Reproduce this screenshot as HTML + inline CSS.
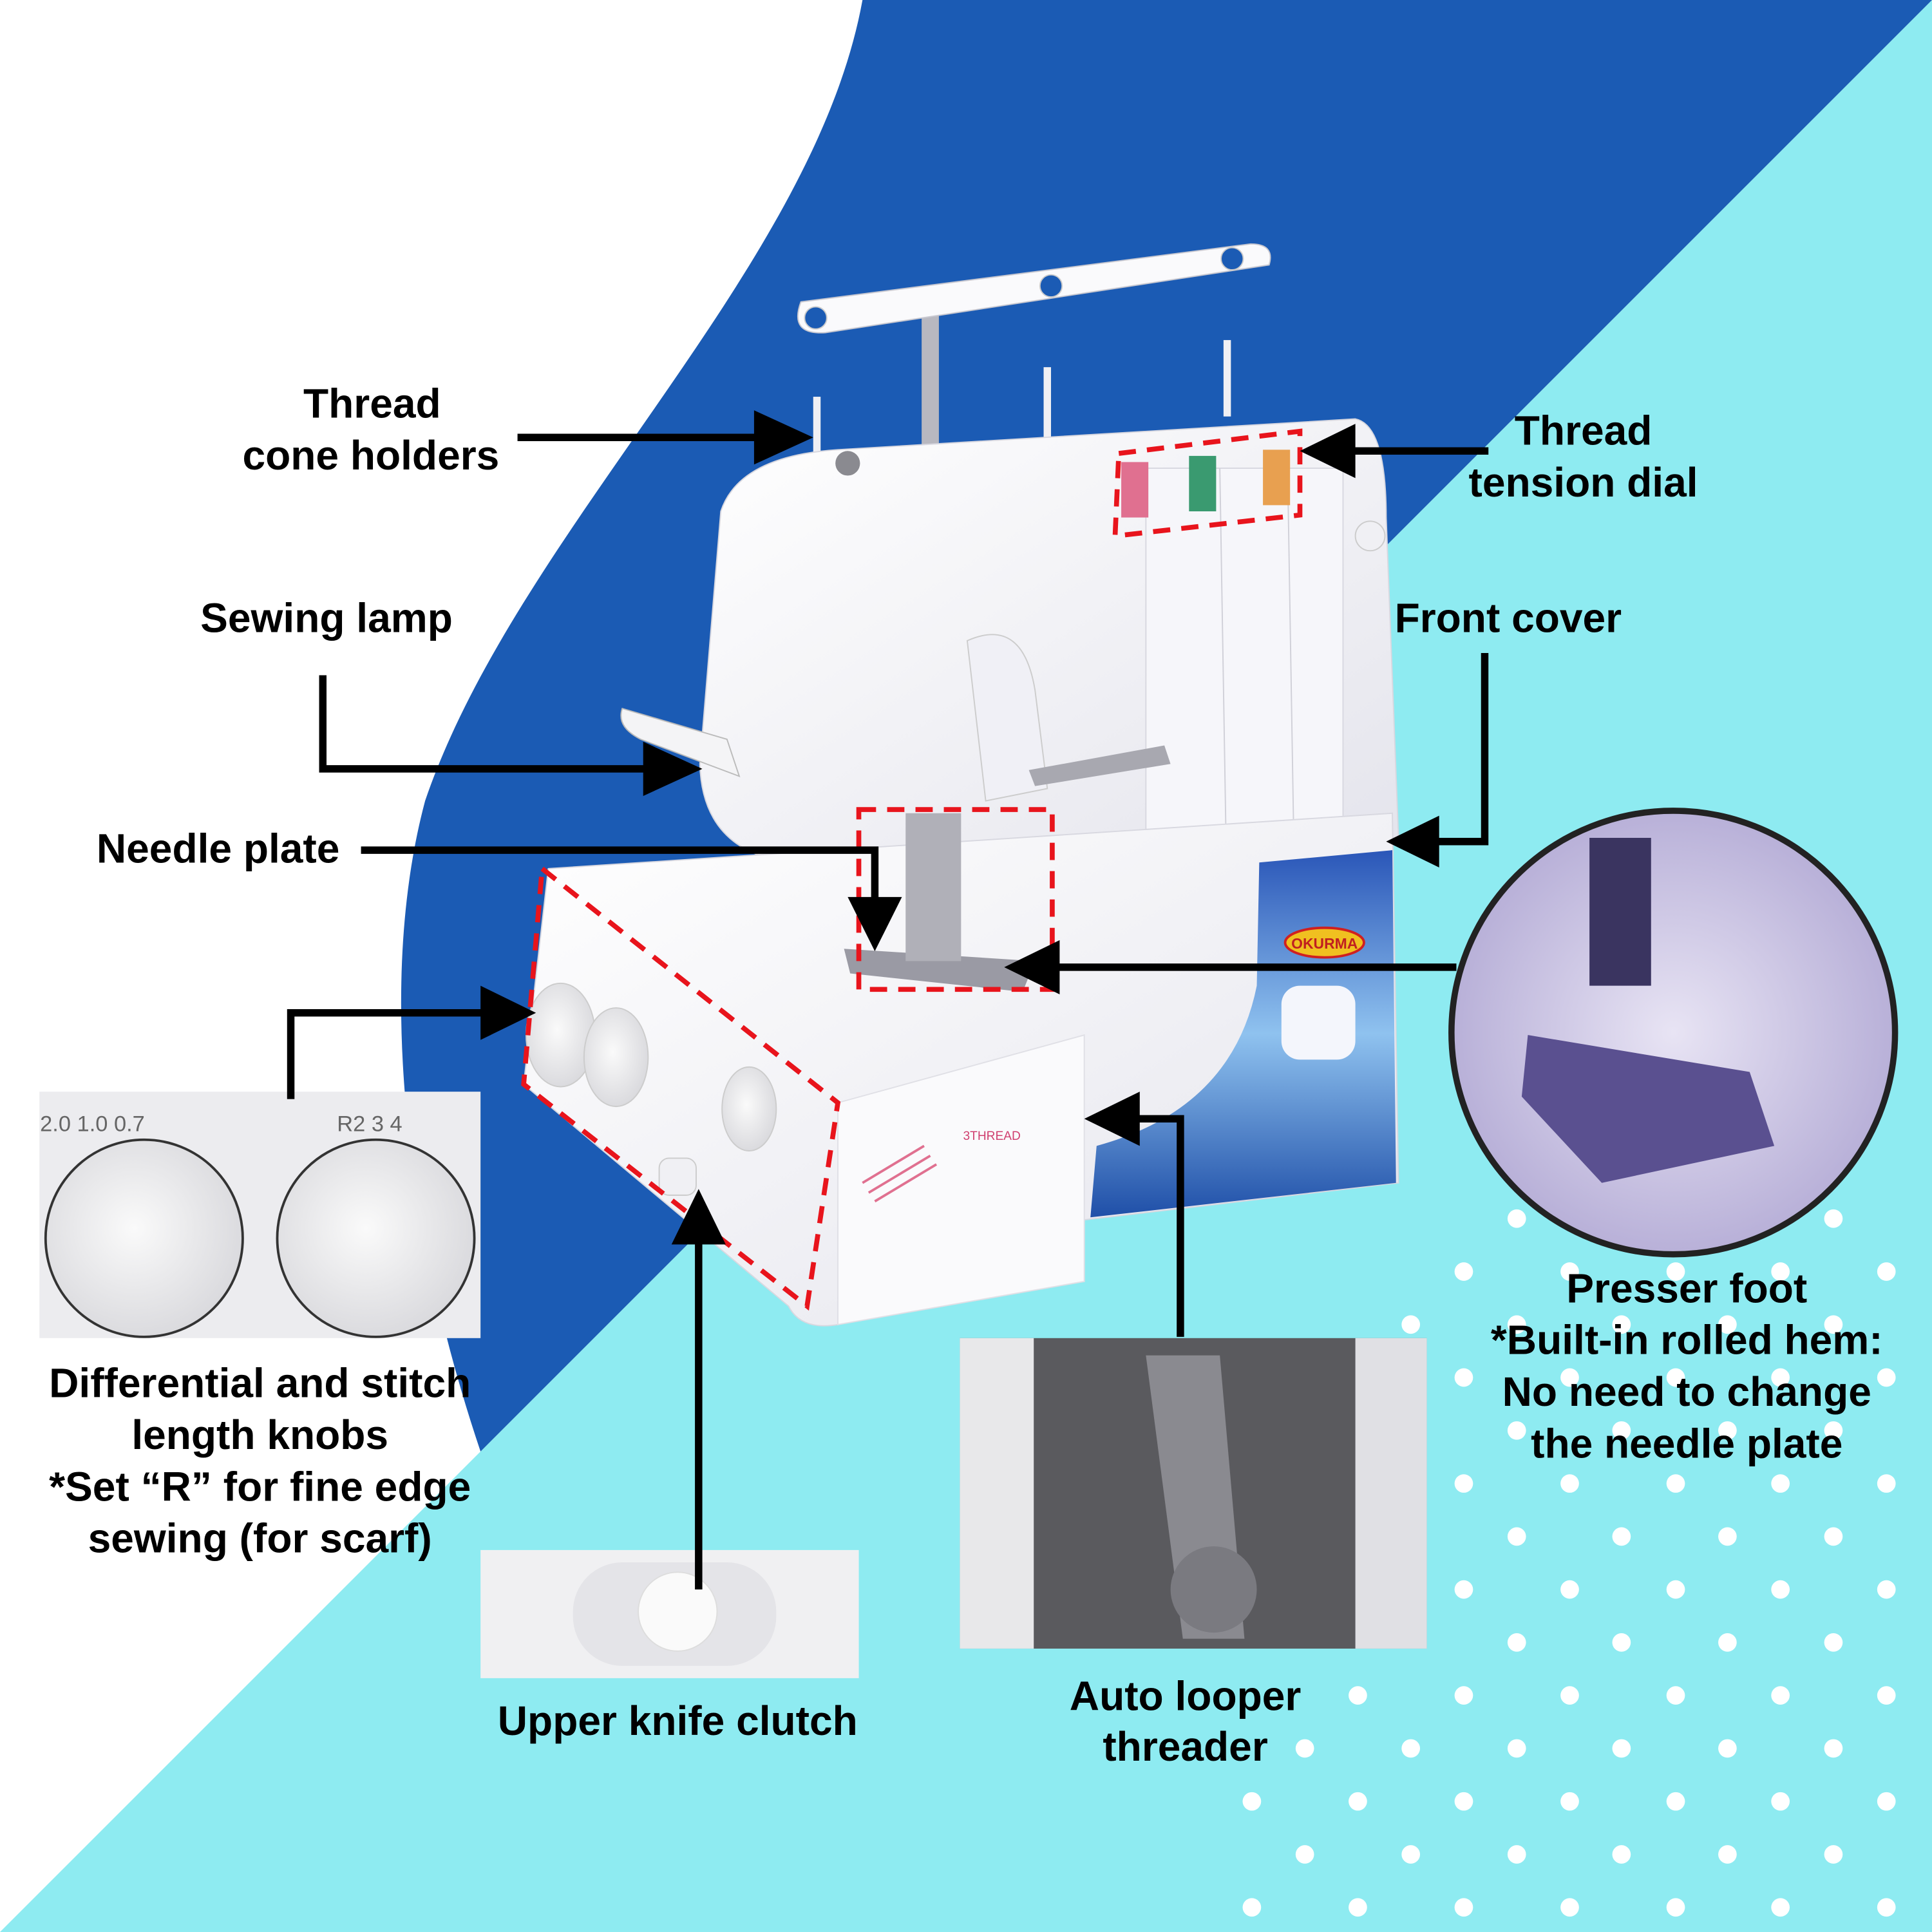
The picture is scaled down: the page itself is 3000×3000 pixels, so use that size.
<!DOCTYPE html>
<html><head><meta charset="utf-8"><style>
html,body{margin:0;padding:0;background:#fff}
svg{display:block}
text{font-family:"Liberation Sans",sans-serif;font-weight:bold;font-size:33.5px;fill:#000;text-anchor:middle}
</style></head><body>
<svg width="3000" height="3000" viewBox="0 0 1568 1568" xmlns="http://www.w3.org/2000/svg">
<defs>
<radialGradient id="knob" cx="0.45" cy="0.45" r="0.6"><stop offset="0" stop-color="#fafafa"/><stop offset="1" stop-color="#d8d8dc"/></radialGradient>
<linearGradient id="body" x1="0" y1="0" x2="1" y2="1"><stop offset="0" stop-color="#ffffff"/><stop offset="1" stop-color="#e4e4ec"/></linearGradient>
<linearGradient id="panel" x1="0" y1="0" x2="0" y2="1"><stop offset="0" stop-color="#2a56b8"/><stop offset="0.5" stop-color="#8fc2ef"/><stop offset="1" stop-color="#1f4fa8"/></linearGradient>
<radialGradient id="pf" cx="0.5" cy="0.5" r="0.5"><stop offset="0" stop-color="#e8e4f4"/><stop offset="1" stop-color="#b8b0d8"/></radialGradient>
</defs>
<rect width="1568" height="1568" fill="#fff"/>
<path d="M1568,0 L1568,1568 L0,1568 Z" fill="#8eebf1"/>
<path d="M700,0 L1568,0 L390,1178 C330,1000 305,800 345,650 C420,430 660,220 700,0 Z" fill="#1b5bb4"/>
<g fill="#fff">
<circle cx="1231" cy="989" r="7.5"/><circle cx="1316" cy="989" r="7.5"/><circle cx="1402" cy="989" r="7.5"/><circle cx="1488" cy="989" r="7.5"/>
<circle cx="1188" cy="1032" r="7.5"/><circle cx="1274" cy="1032" r="7.5"/><circle cx="1360" cy="1032" r="7.5"/><circle cx="1445" cy="1032" r="7.5"/><circle cx="1531" cy="1032" r="7.5"/>
<circle cx="1145" cy="1075" r="7.5"/><circle cx="1231" cy="1075" r="7.5"/><circle cx="1316" cy="1075" r="7.5"/><circle cx="1402" cy="1075" r="7.5"/><circle cx="1488" cy="1075" r="7.5"/>
<circle cx="1188" cy="1118" r="7.5"/><circle cx="1274" cy="1118" r="7.5"/><circle cx="1360" cy="1118" r="7.5"/><circle cx="1445" cy="1118" r="7.5"/><circle cx="1531" cy="1118" r="7.5"/>
<circle cx="1145" cy="1161" r="7.5"/><circle cx="1231" cy="1161" r="7.5"/><circle cx="1316" cy="1161" r="7.5"/><circle cx="1402" cy="1161" r="7.5"/><circle cx="1488" cy="1161" r="7.5"/>
<circle cx="1188" cy="1204" r="7.5"/><circle cx="1274" cy="1204" r="7.5"/><circle cx="1360" cy="1204" r="7.5"/><circle cx="1445" cy="1204" r="7.5"/><circle cx="1531" cy="1204" r="7.5"/>
<circle cx="1231" cy="1247" r="7.5"/><circle cx="1316" cy="1247" r="7.5"/><circle cx="1402" cy="1247" r="7.5"/><circle cx="1488" cy="1247" r="7.5"/>
<circle cx="1188" cy="1290" r="7.5"/><circle cx="1274" cy="1290" r="7.5"/><circle cx="1360" cy="1290" r="7.5"/><circle cx="1445" cy="1290" r="7.5"/><circle cx="1531" cy="1290" r="7.5"/>
<circle cx="1231" cy="1333" r="7.5"/><circle cx="1316" cy="1333" r="7.5"/><circle cx="1402" cy="1333" r="7.5"/><circle cx="1488" cy="1333" r="7.5"/>
<circle cx="1102" cy="1376" r="7.5"/><circle cx="1188" cy="1376" r="7.5"/><circle cx="1274" cy="1376" r="7.5"/><circle cx="1360" cy="1376" r="7.5"/><circle cx="1445" cy="1376" r="7.5"/><circle cx="1531" cy="1376" r="7.5"/>
<circle cx="1059" cy="1419" r="7.5"/><circle cx="1145" cy="1419" r="7.5"/><circle cx="1231" cy="1419" r="7.5"/><circle cx="1316" cy="1419" r="7.5"/><circle cx="1402" cy="1419" r="7.5"/><circle cx="1488" cy="1419" r="7.5"/>
<circle cx="1016" cy="1462" r="7.5"/><circle cx="1102" cy="1462" r="7.5"/><circle cx="1188" cy="1462" r="7.5"/><circle cx="1274" cy="1462" r="7.5"/><circle cx="1360" cy="1462" r="7.5"/><circle cx="1445" cy="1462" r="7.5"/><circle cx="1531" cy="1462" r="7.5"/>
<circle cx="1059" cy="1505" r="7.5"/><circle cx="1145" cy="1505" r="7.5"/><circle cx="1231" cy="1505" r="7.5"/><circle cx="1316" cy="1505" r="7.5"/><circle cx="1402" cy="1505" r="7.5"/><circle cx="1488" cy="1505" r="7.5"/>
<circle cx="1016" cy="1548" r="7.5"/><circle cx="1102" cy="1548" r="7.5"/><circle cx="1188" cy="1548" r="7.5"/><circle cx="1274" cy="1548" r="7.5"/><circle cx="1360" cy="1548" r="7.5"/><circle cx="1445" cy="1548" r="7.5"/><circle cx="1531" cy="1548" r="7.5"/>
</g>
<!-- machine -->
<g>
<rect x="748" y="245" width="14" height="130" fill="#b8b8c0"/>
<path d="M650,245 L1015,198 Q1035,198 1030,215 L670,270 Q640,272 650,245 Z" fill="#fafafc" stroke="#c8c8d0"/>
<circle cx="662" cy="258" r="9" fill="#1b5bb4" stroke="#ccc"/>
<circle cx="853" cy="232" r="9" fill="#1b5bb4" stroke="#ccc"/>
<circle cx="1000" cy="210" r="9" fill="#1b5bb4" stroke="#ccc"/>
<rect x="660" y="322" width="6" height="50" fill="#f0f0f4"/>
<rect x="847" y="298" width="6" height="60" fill="#f0f0f4"/>
<rect x="993" y="276" width="6" height="62" fill="#f0f0f4"/>
<path d="M585,415 Q600,370 680,365 L1100,340 Q1125,345 1125,420 L1135,680 L640,700 Q570,690 568,620 Z" fill="url(#body)" stroke="#d8d8e0"/>
<rect x="930" y="380" width="160" height="300" fill="#f6f6fa" stroke="#d8d8e0"/>
<line x1="990" y1="380" x2="995" y2="680" stroke="#d0d0d8"/>
<line x1="1045" y1="380" x2="1050" y2="680" stroke="#d0d0d8"/>
<rect x="910" y="375" width="22" height="45" fill="#e07090"/>
<rect x="965" y="370" width="22" height="45" fill="#3a9a70"/>
<rect x="1025" y="365" width="22" height="45" fill="#e8a050"/>
<circle cx="1112" cy="435" r="12" fill="#f0f0f4" stroke="#ccc"/>
<path d="M785,520 Q830,500 840,560 L850,640 L800,650 Z" fill="#f0f0f6" stroke="#ccc"/>
<path d="M835,625 L945,605 L950,620 L840,638 Z" fill="#a8a8b0"/>
<path d="M505,575 L590,600 L600,630 L520,600 Q500,590 505,575 Z" fill="#f4f4f6" stroke="#bbb"/>
<circle cx="688" cy="376" r="10" fill="#8a8a90"/>
<path d="M445,705 L1130,660 L1135,960 L880,990 L880,1040 L680,1075 Q650,1080 640,1060 L425,880 Z" fill="url(#body)" stroke="#d8d8e0"/>
<path d="M680,895 L880,840 L880,1040 L680,1075 Z" fill="#fafafc" stroke="#e0e0e6"/>
<path d="M1022,700 L1130,690 L1133,960 L885,988 L890,930 Q1000,900 1020,800 Z" fill="url(#panel)"/>
<ellipse cx="1075" cy="765" rx="32" ry="12" fill="#f0c020" stroke="#d02020" stroke-width="2"/>
<text x="1075" y="770" style="font-size:12px;fill:#c02020">OKURMA</text>
<rect x="1040" y="800" width="60" height="60" rx="15" fill="#f4f6fc"/>
<ellipse cx="455" cy="840" rx="28" ry="42" fill="url(#knob)" stroke="#ccc"/>
<ellipse cx="500" cy="858" rx="26" ry="40" fill="url(#knob)" stroke="#ccc"/>
<ellipse cx="608" cy="900" rx="22" ry="34" fill="url(#knob)" stroke="#ccc"/>
<rect x="535" y="940" width="30" height="30" rx="8" fill="#f0f0f4" stroke="#ccc"/>
<path d="M700,960 L750,930 M705,968 L755,938 M710,975 L760,945" stroke="#e07090" stroke-width="2"/>
<text x="805" y="925" style="font-size:10px;fill:#d04070;font-weight:normal">3THREAD</text>
<path d="M685,770 L840,780 L830,805 L690,790 Z" fill="#9a9aa4"/>
<rect x="735" y="660" width="45" height="120" fill="#b0b0b8"/>
</g>
<g fill="none" stroke="#e8141c" stroke-width="4" stroke-dasharray="14,9">
<path d="M908,368 L1055,350 L1055,418 L905,435 Z"/>
<rect x="697" y="657" width="157" height="146"/>
<path d="M440,705 L680,895 L655,1060 L425,880 Z"/>
</g>
<rect x="32" y="886" width="358" height="200" fill="#ececef"/>
<circle cx="117" cy="1005" r="80" fill="url(#knob)" stroke="#333" stroke-width="2"/>
<circle cx="305" cy="1005" r="80" fill="url(#knob)" stroke="#333" stroke-width="2"/>
<text x="75" y="918" style="font-size:18px;fill:#666;font-weight:normal">2.0  1.0  0.7</text>
<text x="300" y="918" style="font-size:18px;fill:#666;font-weight:normal">R2 3 4</text>
<rect x="390" y="1258" width="307" height="104" fill="#f0f0f2"/>
<rect x="465" y="1268" width="165" height="84" rx="40" fill="#e4e4e8"/>
<circle cx="550" cy="1308" r="32" fill="#fafafa" stroke="#ddd"/>
<rect x="779" y="1086" width="379" height="252" fill="#5a5a5e"/>
<rect x="779" y="1086" width="60" height="252" fill="#e8e8ea"/>
<rect x="1100" y="1086" width="58" height="252" fill="#e0e0e4"/>
<path d="M930,1100 L960,1330 L1010,1330 L990,1100 Z" fill="#8a8a90"/>
<circle cx="985" cy="1290" r="35" fill="#7a7a80"/>
<circle cx="1358" cy="838" r="180" fill="url(#pf)" stroke="#222" stroke-width="5"/>
<path d="M1240,840 L1420,870 L1440,930 L1300,960 L1235,890 Z" fill="#5a5090"/>
<rect x="1290" y="680" width="50" height="120" fill="#3a3460"/>
<g stroke="#000" stroke-width="6" fill="none">
<polyline points="420,355 620,355"/>
<polyline points="1208,366 1095,366"/>
<polyline points="262,548 262,624 530,624"/>
<polyline points="1205,530 1205,683 1165,683"/>
<polyline points="293,690 710,690 710,735"/>
<polyline points="1182,785 855,785"/>
<polyline points="236,892 236,822 395,822"/>
<polyline points="567,1290 567,1005"/>
<polyline points="958,1085 958,908 920,908"/>
</g>
<g fill="#000">
<polygon points="660,355 612,333 612,377"/>
<polygon points="1055,366 1100,344 1100,388"/>
<polygon points="570,624 522,602 522,646"/>
<polygon points="1125,683 1168,662 1168,704"/>
<polygon points="710,772 688,728 732,728"/>
<polygon points="815,785 860,763 860,807"/>
<polygon points="435,822 390,800 390,844"/>
<polygon points="567,965 545,1010 589,1010"/>
<polygon points="880,908 925,886 925,930"/>
</g>
<text x="302" y="339">Thread</text>
<text x="301" y="381">cone holders</text>
<text x="1285" y="361">Thread</text>
<text x="1285" y="403">tension dial</text>
<text x="265" y="513">Sewing lamp</text>
<text x="1224" y="513">Front cover</text>
<text x="177" y="700">Needle plate</text>
<text x="211" y="1134">Differential and stitch</text>
<text x="211" y="1176">length knobs</text>
<text x="211" y="1218">*Set “R” for fine edge</text>
<text x="211" y="1260">sewing (for scarf)</text>
<text x="550" y="1408">Upper knife clutch</text>
<text x="962" y="1388">Auto looper</text>
<text x="962" y="1429">threader</text>
<text x="1369" y="1057">Presser foot</text>
<text x="1369" y="1099">*Built-in rolled hem:</text>
<text x="1369" y="1141">No need to change</text>
<text x="1369" y="1183">the needle plate</text>
</svg>
</body></html>
